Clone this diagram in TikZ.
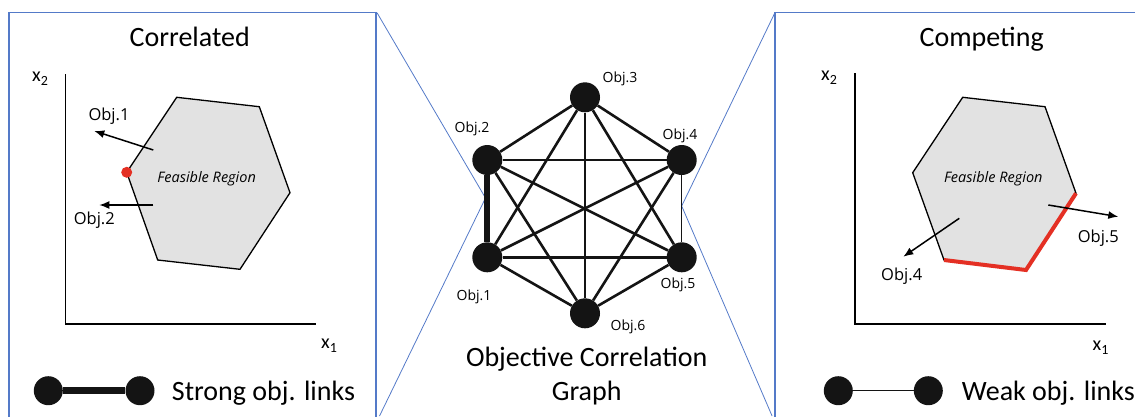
\documentclass[tikz,border=0pt]{standalone}
\usepackage{fontspec}
\setmainfont{Carlito}
\newfontfamily\osans{Open Sans}
\usetikzlibrary{arrows.meta}
\definecolor{frameblue}{RGB}{84,122,200}
\definecolor{regiongray}{RGB}{226,226,226}
\definecolor{optred}{RGB}{228,48,36}
\definecolor{nodeblack}{RGB}{20,20,20}
\begin{document}
\begin{tikzpicture}[x=1pt,y=-1pt,
  frame/.style={draw=frameblue,line width=1.3pt},
  zoomline/.style={draw=frameblue,line width=0.8pt},
  gnode/.style={circle,fill=nodeblack,minimum size=30pt,inner sep=0pt},
  lnode/.style={circle,fill=nodeblack,minimum size=29pt,inner sep=0pt},
  edge/.style={draw=nodeblack,line width=2.6pt},
  strongedge/.style={draw=nodeblack,line width=6pt},
  weakedge/.style={draw=nodeblack,line width=1pt},
  glabel/.style={font=\osans\fontsize{14}{16}\selectfont,inner sep=0pt},
  plabel/.style={font=\osans\fontsize{16.5}{18}\selectfont,inner sep=0pt},
  feas/.style={font=\osans\itshape\fontsize{14.5}{17}\selectfont,inner sep=0pt},
  bigtext/.style={font=\fontsize{28}{34}\selectfont,inner sep=0pt},
  axislabel/.style={font=\fontsize{20}{22}\selectfont,inner sep=0pt},
  axis/.style={draw=black,line width=1.2pt},
  region/.style={fill=regiongray,draw=black,line width=1.3pt,line join=miter},
  optedge/.style={draw=optred,line width=4pt,line join=miter},
  objarrow/.style={draw=black,line width=1.5pt,-{Latex[length=10pt,width=8pt]}}
]
\useasboundingbox (0,0) rectangle (1135,416);
\clip (0,0) rectangle (1135,416);

% frames and zoom lines
\draw[frame] (9,430) -- (9,12.7) -- (376,12.7) -- (376,430);
\draw[frame] (1145,12.5) -- (775,12.5) -- (775,430);
\coordinate (zl) at (485.5,198);
\coordinate (zr) at (681.7,206);
\draw[zoomline] (377,12.7) -- (zl) -- (379.5,416);
\draw[zoomline] (775,12.5) -- (zr) -- (772.1,416);

% ---------------- graph ----------------
\node[gnode] (o3) at (585,97.3) {};
\node[gnode] (o2) at (487.3,160) {};
\node[gnode] (o4) at (681.7,160) {};
\node[gnode] (o1) at (487.3,257.3) {};
\node[gnode] (o5) at (681.7,257.3) {};
\node[gnode] (o6) at (585,313.3) {};

\draw[strongedge] (o1) -- (o2);
\draw[weakedge] (o4) -- (o5);
\foreach \a/\b in {o1/o3,o1/o4,o1/o5,o1/o6,o2/o3,o2/o4,o2/o5,o2/o6,o3/o4,o3/o5,o3/o6,o4/o6,o5/o6}
  \draw[edge] (\a) -- (\b);

\node[glabel] (l3) at (620,79) {Obj.3};
\node[glabel] (l2) at (472,128.5) {Obj.2};
\node[glabel] (l4) at (680,135.5) {Obj.4};
\node[glabel] (l1) at (474,296.5) {Obj.1};
\node[glabel] (l5) at (678,284.5) {Obj.5};
\node[glabel] (l6) at (628,326.5) {Obj.6};

\node[bigtext,align=center] (gtitle) at (586.7,376.5) {Objective Correlation\\Graph};

% ---------------- left panel ----------------
\node[bigtext,anchor=base] (ltitle) at (189.7,46.7) {Correlated};
\draw[axis] (65.7,74) -- (65.7,324) -- (315.7,324);
\node[axislabel] (lx2) at (40,79) {x\raisebox{-0.45ex}{\fontsize{14}{14}\selectfont 2}};
\node[axislabel] (lx1) at (329,346) {x\raisebox{-0.45ex}{\fontsize{14}{14}\selectfont 1}};
\filldraw[region] (176.7,97.3) -- (259.3,106.7) -- (290,192.7) -- (240,269.3) -- (157.7,260) -- (126.7,172.3) -- cycle;
\node[feas] (lfeas) at (206.7,179) {Feasible Region};
\coordinate (a1s) at (153.3,150);
\coordinate (a1e) at (94.3,131);
\coordinate (a2s) at (153.3,205);
\coordinate (a2e) at (99.3,205);
\draw[objarrow] (a1s) -- (a1e);
\draw[objarrow] (a2s) -- (a2e);
\node[plabel] (lo1) at (109,116) {Obj.1};
\node[plabel] (lo2) at (94.3,220.5) {Obj.2};
\fill[optred] (126.7,172.3) circle (5.5);

\node[lnode] (sl) at (48.3,390.7) {};
\node[lnode] (sr) at (140,390.7) {};
\draw[draw=nodeblack,line width=7pt] (sl) -- (sr);
\node[bigtext,anchor=base west] (strong) at (171.7,400) {Strong obj. links};

% ---------------- right panel ----------------
\node[bigtext,anchor=base] (rtitle) at (981.7,46.7) {Competing};
\draw[axis] (855,73) -- (855,324) -- (1106,324);
\node[axislabel] (rx2) at (829,77.5) {x\raisebox{-0.45ex}{\fontsize{14}{14}\selectfont 2}};
\node[axislabel] (rx1) at (1100.5,348) {x\raisebox{-0.45ex}{\fontsize{14}{14}\selectfont 1}};
\filldraw[region] (962.7,97.3) -- (1045,106.7) -- (1076,193.3) -- (1026,270) -- (944,260) -- (912.7,172.7) -- cycle;
\draw[optedge] (944,260) -- (1026,270) -- (1076,193.3);
\node[feas] (rfeas) at (993.3,179) {Feasible Region};
\coordinate (a5s) at (1048.3,205);
\coordinate (a5e) at (1118.3,216.7);
\coordinate (a4s) at (959.3,218.3);
\coordinate (a4e) at (903.3,256.7);
\draw[objarrow] (a5s) -- (a5e);
\draw[objarrow] (a4s) -- (a4e);
\node[plabel] (ro5) at (1098.3,238) {Obj.5};
\node[plabel] (ro4) at (901.7,276.5) {Obj.4};

\node[lnode] (wl) at (838.3,390.7) {};
\node[lnode] (wr) at (928.3,390.7) {};
\draw[draw=nodeblack,line width=1pt] (wl) -- (wr);
\node[bigtext,anchor=base west] (weak) at (961.7,400) {Weak obj. links};
\end{tikzpicture}
\end{document}
